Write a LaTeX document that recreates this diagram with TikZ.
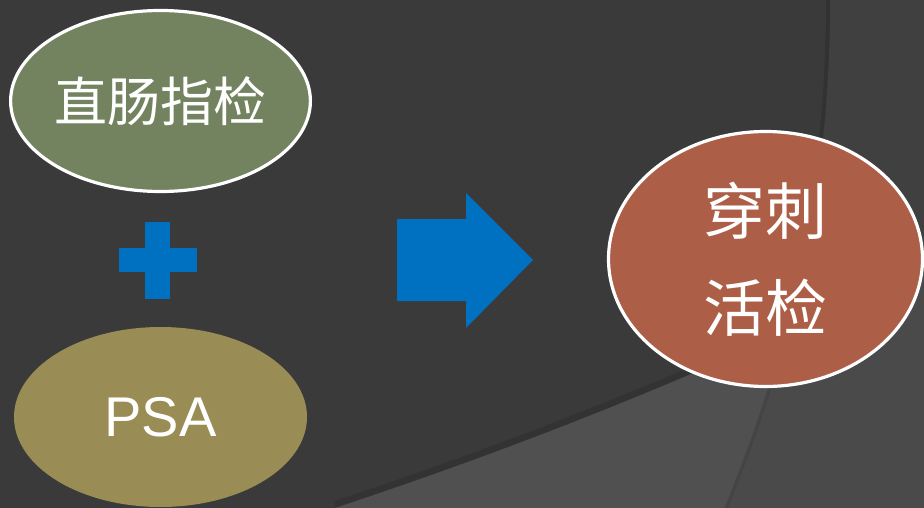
\documentclass[tikz,border=0pt]{standalone}
\usepackage{fontspec}
\setmainfont{Liberation Sans}
\newfontfamily\cjk{Noto Sans CJK SC}
\usetikzlibrary{shapes.geometric}
\definecolor{bgdark}{HTML}{3A3A3A}
\definecolor{bgright}{HTML}{404040}
\definecolor{bglow}{HTML}{505050}
\definecolor{bglowright}{HTML}{4A4A4A}
\definecolor{shadowgray}{HTML}{2E2E2E}
\definecolor{greenfill}{HTML}{738360}
\definecolor{olivefill}{HTML}{998C54}
\definecolor{redfill}{HTML}{AD5E47}
\definecolor{blueshape}{HTML}{0070C0}
\tikzset{
  bubble/.style={ellipse, inner sep=0pt, text=white, align=center},
  bordered/.style={draw=white, line width=3.2pt},
  blueblock/.style={fill=blueshape, draw=none},
}
\begin{document}
\begin{tikzpicture}[x=1pt,y=-1pt]
\useasboundingbox (0,0) rectangle (924,508);
% background
\fill[bgdark] (0,0) rectangle (924,508);
\fill[bgright] (830,0) .. controls (830,170) and (800,330) .. (727,508) -- (924,508) -- (924,0) -- cycle;
\draw[draw=shadowgray, line width=4pt, opacity=0.6] (828,0) .. controls (828,170) and (798,330) .. (725,508);
\draw[draw=shadowgray, line width=8pt, opacity=0.5] (335,505) .. controls (480,457) and (700,377) .. (924,262);
\begin{scope}
  \clip (335,508) .. controls (480,460) and (700,380) .. (924,265) -- (924,508) -- cycle;
  \fill[bglow] (0,0) rectangle (924,508);
  \fill[bglowright] (830,0) .. controls (830,170) and (800,330) .. (727,508) -- (924,508) -- (924,0) -- cycle;
  \draw[draw=shadowgray, line width=3pt, opacity=0.3] (829,0) .. controls (829,170) and (799,330) .. (726,508);
\end{scope}
% ellipses
\node[bubble, bordered, fill=greenfill, minimum width=292pt, minimum height=181pt,
      font=\cjk\fontsize{53}{60}\selectfont] (dre) at (160.5,101) {直肠指检};
\node[bubble, fill=olivefill, minimum width=293pt, minimum height=180pt,
      font=\fontsize{56}{60}\selectfont] (psa) at (160.5,417) {PSA};
\node[bubble, bordered, fill=redfill, minimum width=314pt, minimum height=255pt,
      font=\cjk\fontsize{62}{97}\selectfont] (biopsy) at (765.5,259) {穿刺\\活检};
% plus sign
\fill[blueblock] (145,222) rectangle (170,299);
\fill[blueblock] (119,248) rectangle (197,272);
% block arrow
\fill[blueblock] (397,219) -- (466,219) -- (466,193) -- (533,260) -- (466,328) -- (466,301) -- (397,301) -- cycle;
\end{tikzpicture}
\end{document}
